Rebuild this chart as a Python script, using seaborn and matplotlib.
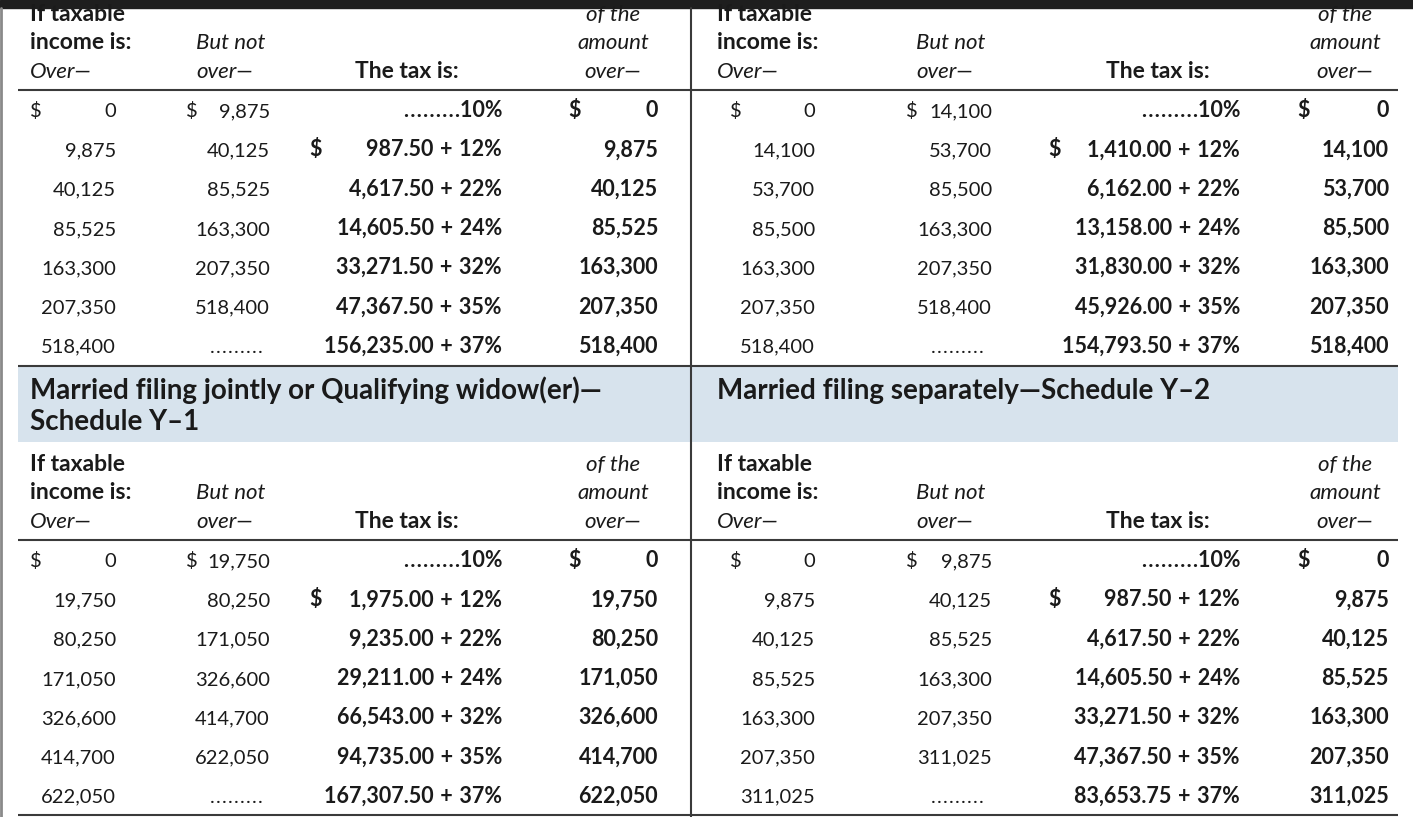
import matplotlib.pyplot as plt
import seaborn as sns

# Tax rate schedules (2020) as shown in the reference
rates = [10, 12, 22, 24, 32, 35, 37]

single_over = [0, 9875, 40125, 85525, 163300, 207350, 518400]
single_base = [0, 987.50, 4617.50, 14605.50, 33271.50, 47367.50, 156235.00]

hoh_over = [0, 14100, 53700, 85500, 163300, 207350, 518400]
hoh_base = [0, 1410.00, 6162.00, 13158.00, 31830.00, 45926.00, 154793.50]

mfj_over = [0, 19750, 80250, 171050, 326600, 414700, 622050]
mfj_base = [0, 1975.00, 9235.00, 29211.00, 66543.00, 94735.00, 167307.50]

mfs_over = [0, 9875, 40125, 85525, 163300, 207350, 311025]
mfs_base = [0, 987.50, 4617.50, 14605.50, 33271.50, 47367.50, 83653.75]

titles_mid = ["Married filing jointly or Qualifying widow(er)—\nSchedule Y–1",
              "Married filing separately—Schedule Y–2"]

sns.set_theme(style="white")
plt.rcParams['font.family'] = ['Lato', 'DejaVu Sans']

INK = '#1a1a1a'
RULE = '#3a3a3a'
BAND = '#d7e3ed'
FS = 14.5     # regular numbers
FS_B = 16.5   # bold headers
FS_V = 15.5   # bold numbers
FS_I = 16     # italic
DOTS = '\u200a'.join('.' * 9)
PLUS = '\u200a + \u200a'

fig = plt.figure(figsize=(14.13, 8.17), dpi=100)
ax = fig.add_axes([0, 0, 1, 1])
ax.set_xlim(0, 1413)
ax.set_ylim(817, 0)
ax.axis('off')

# column positions for the left and right halves
cols = [
    dict(lab=30, d1=30, r1=116, bn=196, d2=186, r2=270, c3=407, d3=309, r3=502,
         c4=613, d4=568, r4=658),
    dict(lab=717, d1=730, r1=815, bn=916, d2=906, r2=992, c3=1158, d3=1048, r3=1240,
         c4=1345, d4=1297, r4=1389),
]


def txt(x, y, s, ha='left', bold=False, italic=False, size=None):
    if size is None:
        size = FS_B if bold else (FS_I if italic else FS)
    ax.text(x, y, s, ha=ha, va='baseline', color=INK, fontsize=size,
            fontweight='bold' if bold else 'normal',
            fontstyle='italic' if italic else 'normal')


def draw_table(c, y0, over, base):
    # header block
    txt(c['lab'], y0 + 21, "If taxable", bold=True)
    txt(c['lab'], y0 + 49, "income is:", bold=True)
    txt(c['lab'], y0 + 78, "Over—", italic=True)
    txt(c['bn'], y0 + 49, "But not", italic=True)
    txt(c['bn'], y0 + 78, "over—", italic=True)
    txt(c['c3'], y0 + 78, "The tax is:", ha='center', bold=True)
    txt(c['c4'], y0 + 21, "of the", ha='center', italic=True)
    txt(c['c4'], y0 + 49, "amount", ha='center', italic=True)
    txt(c['c4'], y0 + 78, "over—", ha='center', italic=True)

    n = len(over)
    for i in range(n):
        yb = y0 + 117 + i * 39.3
        if i == 0:
            txt(c['d1'], yb, "$")
        txt(c['r1'], yb, f"{over[i]:,}", ha='right')
        if i < n - 1:
            if i == 0:
                txt(c['d2'], yb, "$")
            txt(c['r2'], yb, f"{over[i + 1]:,}", ha='right')
        else:
            txt((c['d2'] + c['r2']) / 2 + 8, yb, DOTS, ha='center')
        if i == 0:
            txt(c['r3'], yb, f"{DOTS}{rates[i]}%", ha='right', bold=True, size=FS_V)
            txt(c['d4'], yb, "$", bold=True, size=FS_V)
        else:
            if i == 1:
                txt(c['d3'], yb, "$", bold=True, size=FS_V)
            txt(c['r3'], yb, f"{base[i]:,.2f}{PLUS}{rates[i]}%", ha='right',
                bold=True, size=FS_V)
        txt(c['r4'], yb, f"{over[i]:,}", ha='right', bold=True, size=FS_V)


# top strip (cut-off toolbar)
ax.axhspan(0, 8, color='#1e1e1e', zorder=0)

# middle title band
ax.fill_between([18, 1398], 367, 442, color=BAND, lw=0, zorder=0)
line1, line2 = titles_mid[0].split('\n')
txt(30, 399, line1, bold=True, size=20)
txt(30, 430, line2, bold=True, size=20)
txt(717, 399, titles_mid[1], bold=True, size=20)

draw_table(cols[0], 0, single_over, single_base)
draw_table(cols[1], 0, hoh_over, hoh_base)
draw_table(cols[0], 450, mfj_over, mfj_base)
draw_table(cols[1], 450, mfs_over, mfs_base)

# rules
for y in [90, 366, 540, 815]:
    ax.plot([18, 1398], [y, y], color=RULE, lw=1.5, solid_capstyle='butt')
ax.plot([691, 691], [8, 817], color=RULE, lw=1.5)
ax.plot([1, 1], [8, 817], color='#8a8a8a', lw=2)

fig.savefig('out.png', dpi=100)
